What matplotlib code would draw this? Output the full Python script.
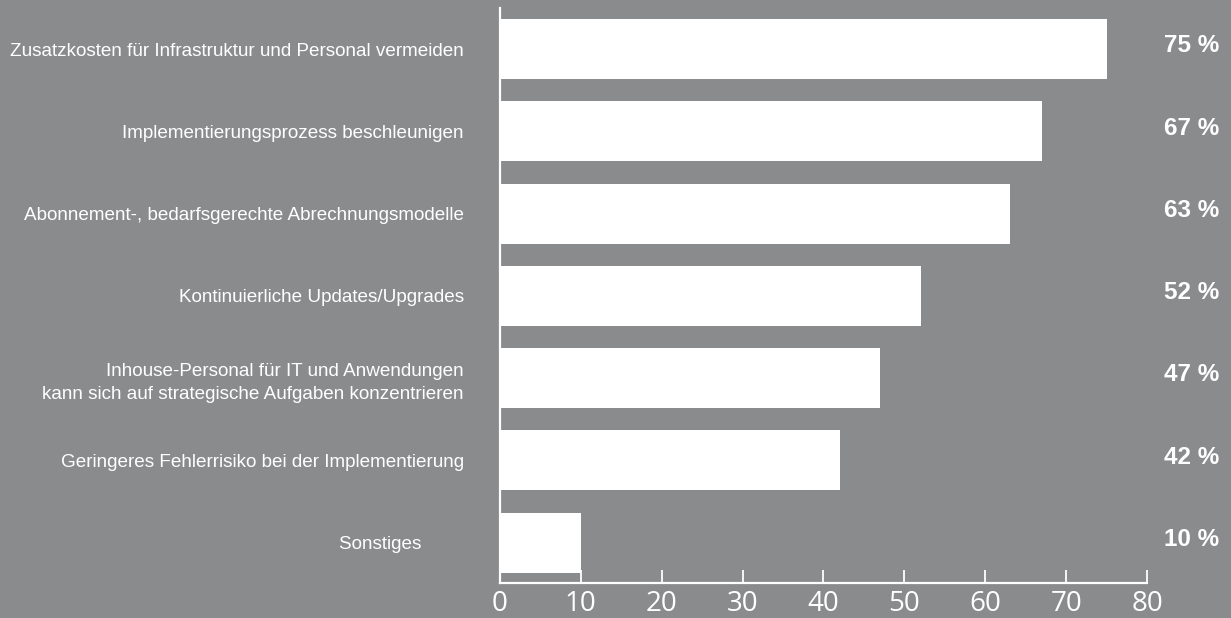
import matplotlib
matplotlib.use("Agg")
import matplotlib.pyplot as plt
import matplotlib.transforms as transforms

# data
categories = [
    "Zusatzkosten für Infrastruktur und Personal vermeiden",
    "Implementierungsprozess beschleunigen",
    "Abonnement-, bedarfsgerechte Abrechnungsmodelle",
    "Kontinuierliche Updates/Upgrades",
    "Inhouse-Personal für IT und Anwendungen\nkann sich auf strategische Aufgaben konzentrieren",
    "Geringeres Fehlerrisiko bei der Implementierung",
    "Sonstiges        ",
]
values = [75, 67, 63, 52, 47, 42, 10]
value_labels = ["75 %", "67 %", "63 %", "52 %", "47 %", "42 %", "10 %"]
x_ticks = [0, 10, 20, 30, 40, 50, 60, 70, 80]

bg = "#8a8b8d"

fig = plt.figure(figsize=(12.31, 6.18), dpi=100, facecolor=bg)
ax = fig.add_axes([0.406, 0.0566, 0.5258, 0.9304])
ax.set_facecolor(bg)

pos = list(range(len(categories)))
ax.barh(pos, values, height=0.73, color="white", zorder=1)

ax.set_xlim(0, 80)
ax.set_ylim(6.49, -0.5)

ax.set_yticks(pos)
ax.set_yticklabels(categories, fontfamily="Liberation Sans", fontsize=13.6,
                   color="white", linespacing=1.45)
ax.tick_params(axis="y", length=0, pad=26)

ax.set_xticks(x_ticks)
ax.set_xticklabels([str(t) for t in x_ticks], fontfamily="Open Sans", fontsize=20, color="white")
ax.tick_params(axis="x", direction="in", length=9.5, width=1.3, color="white", pad=5)

for side in ["top", "right"]:
    ax.spines[side].set_visible(False)
for side in ["left", "bottom"]:
    ax.spines[side].set_color("white")
    ax.spines[side].set_linewidth(1.6)

trans = transforms.blended_transform_factory(ax.transAxes, ax.transData)
for p, lab in zip(pos, value_labels):
    ax.text(1.111, p - 0.04, lab, transform=trans, ha="right", va="center",
            fontfamily="Liberation Sans", fontsize=17.5, fontweight="bold",
            color="white", clip_on=False)

fig.savefig("out.png", dpi=100, facecolor=bg)
